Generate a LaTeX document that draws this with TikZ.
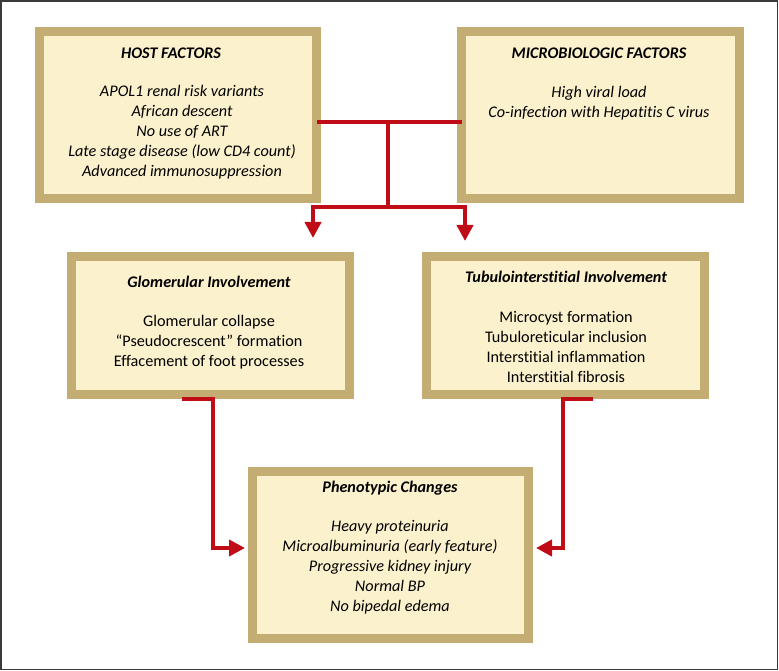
\documentclass[tikz,border=0pt]{standalone}
\usepackage{fontspec}
\setmainfont{Carlito}[Ligatures=NoCommon]
\usetikzlibrary{arrows.meta}
\definecolor{tanb}{RGB}{196,173,114}
\definecolor{creamf}{RGB}{251,241,204}
\definecolor{redc}{RGB}{192,12,22}
\definecolor{framec}{RGB}{58,58,58}
\tikzset{
  box/.style={draw=tanb, fill=creamf, line width=9pt, inner sep=0pt, outer sep=0pt},
  ttl/.style={font=\fontsize{16.2}{20}\selectfont\bfseries\itshape, inner sep=0pt},
  bodyi/.style={font=\fontsize{16.2}{20}\selectfont\itshape, align=center, inner sep=0pt},
  bodyu/.style={font=\fontsize{16.2}{20}\selectfont, align=center, inner sep=0pt},
  conn/.style={draw=redc, line width=4pt},
  arr/.style={conn, -{Triangle[width=16pt,length=16pt]}},
}
\begin{document}
\begin{tikzpicture}[x=1pt,y=-1pt]
\useasboundingbox (0,0) rectangle (779,671);
\draw[framec, line width=1.5pt] (1,1) rectangle (777.5,669.5);

% boxes (outer edges minus half border)
\node[box, minimum width=277pt, minimum height=167pt] (host) at (178,115) {};
\node[box, minimum width=278pt, minimum height=167pt] (micro) at (600.5,115) {};
\node[box, minimum width=278pt, minimum height=138pt] (glom) at (210,325) {};
\node[box, minimum width=278pt, minimum height=138pt] (tubu) at (565.5,325) {};
\node[box, minimum width=276pt, minimum height=167pt] (phen) at (390.5,555) {};

% texts
\node[ttl] (hostt) at (171,53) {HOST FACTORS};
\node[bodyi] (hostb) at (182,132) {APOL1 renal risk variants\\African descent\\No use of ART\\Late stage disease (low CD4 count)\\Advanced immunosuppression};
\node[ttl] (microt) at (599,53) {MICROBIOLOGIC FACTORS};
\node[bodyi] (microb) at (599,103) {High viral load\\Co-infection with Hepatitis C virus};
\node[ttl] (glomt) at (209,282) {Glomerular Involvement};
\node[bodyu] (glomb) at (209,342) {Glomerular collapse\\“Pseudocrescent” formation\\Effacement of foot processes};
\node[ttl] (tubut) at (566,277) {Tubulointerstitial Involvement};
\node[bodyu] (tubub) at (566,347) {Microcyst formation\\Tubuloreticular inclusion\\Interstitial inflammation\\Interstitial fibrosis};
\node[ttl] (phent) at (390,488) {Phenotypic Changes};
\node[bodyi] (phenb) at (390,567) {Heavy proteinuria\\Microalbuminuria (early feature)\\Progressive kidney injury\\Normal BP\\No bipedal edema};

% connector coordinates
\coordinate (j) at (388,122);
\coordinate (s) at (388,207);
\coordinate (sl) at (313,207);
\coordinate (sr) at (465,207);
\coordinate (tl) at (313,238);
\coordinate (tr) at (465,241);
\coordinate (gl) at (182,399);
\coordinate (gk) at (213,399);
\coordinate (gd) at (213,548);
\coordinate (pl) at (245,548);
\coordinate (tb) at (593,399);
\coordinate (tk) at (563,399);
\coordinate (td) at (563,548);
\coordinate (pr) at (536,548);

\draw[conn] (host.east |- j) -- (micro.west |- j);
\draw[conn] (j) -- (s);
\draw[conn] ([xshift=-2pt]sl) -- ([xshift=2pt]sr);
\draw[arr] ([yshift=-2pt]sl) -- (tl);
\draw[arr] ([yshift=-2pt]sr) -- (tr);
\draw[arr, line join=miter] (gl) -- (gk) -- (gd) -- (pl);
\draw[arr, line join=miter] (tb) -- (tk) -- (td) -- (pr);
\end{tikzpicture}
\end{document}
